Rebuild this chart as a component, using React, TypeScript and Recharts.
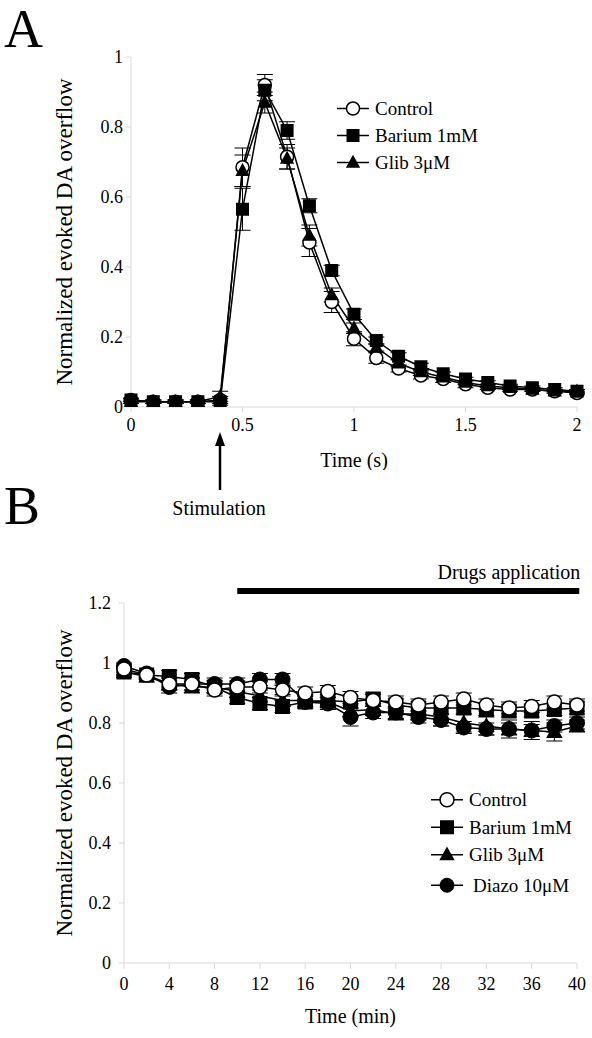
import React from 'react';
import { LineChart, Line, XAxis, YAxis, ErrorBar, ReferenceLine } from 'recharts';

const FONT = '"Liberation Serif", "Times New Roman", serif';

// ---------- Panel A data ----------
const timeA = [0, 0.1, 0.2, 0.3, 0.4, 0.5, 0.6, 0.7, 0.8, 0.9, 1, 1.1, 1.2, 1.3, 1.4, 1.5, 1.6, 1.7, 1.8, 1.9, 2];
const controlA = [0.02, 0.015, 0.015, 0.015, 0.02, 0.685, 0.92, 0.715, 0.47, 0.3, 0.195, 0.14, 0.11, 0.09, 0.08, 0.065, 0.055, 0.05, 0.05, 0.045, 0.04];
const controlAErr = [0.005, 0.005, 0.005, 0.005, 0.01, 0.055, 0.03, 0.035, 0.04, 0.03, 0.02, 0.015, 0.01, 0.01, 0.01, 0.01, 0.005, 0.005, 0.005, 0.005, 0.005];
const bariumA = [0.02, 0.015, 0.015, 0.015, 0.015, 0.565, 0.905, 0.79, 0.575, 0.39, 0.265, 0.19, 0.145, 0.115, 0.095, 0.08, 0.07, 0.06, 0.055, 0.05, 0.045];
const bariumAErr = [0.005, 0.005, 0.005, 0.005, 0.01, 0.06, 0.03, 0.025, 0.02, 0.015, 0.015, 0.01, 0.01, 0.01, 0.005, 0.005, 0.005, 0.005, 0.005, 0.005, 0.005];
const glibA = [0.015, 0.015, 0.015, 0.015, 0.03, 0.675, 0.87, 0.71, 0.49, 0.32, 0.225, 0.17, 0.125, 0.1, 0.085, 0.07, 0.06, 0.055, 0.05, 0.045, 0.045];
const glibAErr = [0.005, 0.005, 0.005, 0.005, 0.015, 0.045, 0.03, 0.03, 0.03, 0.02, 0.015, 0.01, 0.01, 0.01, 0.005, 0.005, 0.005, 0.005, 0.005, 0.005, 0.005];
const ticksAx = [0, 0.5, 1, 1.5, 2];
const ticksAy = [0, 0.2, 0.4, 0.6, 0.8, 1];
const legendA = ['Control', 'Barium 1mM', 'Glib 3\u03bcM'];

// ---------- Panel B data ----------
const timeB = [0, 2, 4, 6, 8, 10, 12, 14, 16, 18, 20, 22, 24, 26, 28, 30, 32, 34, 36, 38, 40];
const controlB = [0.98, 0.96, 0.93, 0.93, 0.91, 0.92, 0.92, 0.91, 0.9, 0.905, 0.885, 0.875, 0.87, 0.86, 0.87, 0.88, 0.86, 0.85, 0.855, 0.87, 0.86];
const controlBErr = [0.01, 0.01, 0.02, 0.02, 0.02, 0.02, 0.02, 0.02, 0.02, 0.02, 0.02, 0.02, 0.02, 0.02, 0.02, 0.02, 0.02, 0.02, 0.02, 0.02, 0.02];
const bariumB = [0.97, 0.96, 0.955, 0.945, 0.92, 0.885, 0.865, 0.855, 0.87, 0.875, 0.87, 0.88, 0.86, 0.85, 0.85, 0.85, 0.845, 0.84, 0.84, 0.845, 0.85];
const bariumBErr = [0.01, 0.01, 0.02, 0.02, 0.02, 0.02, 0.02, 0.02, 0.02, 0.02, 0.02, 0.02, 0.02, 0.02, 0.02, 0.02, 0.02, 0.02, 0.02, 0.02, 0.02];
const glibB = [0.97, 0.955, 0.93, 0.92, 0.92, 0.905, 0.89, 0.875, 0.875, 0.87, 0.84, 0.845, 0.83, 0.83, 0.82, 0.8, 0.79, 0.78, 0.775, 0.77, 0.79];
const glibBErr = [0.01, 0.01, 0.02, 0.02, 0.02, 0.02, 0.02, 0.02, 0.02, 0.02, 0.02, 0.02, 0.02, 0.02, 0.03, 0.03, 0.03, 0.03, 0.03, 0.03, 0.02];
const diazoB = [0.99, 0.965, 0.92, 0.93, 0.93, 0.93, 0.945, 0.945, 0.87, 0.865, 0.82, 0.835, 0.835, 0.82, 0.81, 0.785, 0.78, 0.78, 0.775, 0.79, 0.8];
const diazoBErr = [0.01, 0.01, 0.02, 0.02, 0.02, 0.02, 0.02, 0.02, 0.02, 0.02, 0.03, 0.02, 0.02, 0.02, 0.02, 0.02, 0.02, 0.02, 0.02, 0.02, 0.02];
const ticksBx = [0, 4, 8, 12, 16, 20, 24, 28, 32, 36, 40];
const ticksBy = [0, 0.2, 0.4, 0.6, 0.8, 1, 1.2];
const legendB = ['Control', 'Barium 1mM', 'Glib 3\u03bcM', 'Diazo 10\u03bcM'];
const drugStart = 10;
const drugEnd = 40.2;
const drugLevel = 1.24;

const dataA = timeA.map((t, i) => ({
  t,
  c: controlA[i], cErr: controlAErr[i],
  b: bariumA[i], bErr: bariumAErr[i],
  g: glibA[i], gErr: glibAErr[i],
}));

const dataB = timeB.map((t, i) => ({
  t,
  c: controlB[i], cErr: controlBErr[i],
  b: bariumB[i], bErr: bariumBErr[i],
  g: glibB[i], gErr: glibBErr[i],
  d: diazoB[i], dErr: diazoBErr[i],
}));

type Kind = 'open' | 'square' | 'triangle' | 'filled';

function Marker({ kind, cx, cy, s }: { kind: Kind; cx: number; cy: number; s: number }) {
  if (kind === 'open') return <circle cx={cx} cy={cy} r={s} fill="#fff" stroke="#000" strokeWidth={1.5} />;
  if (kind === 'filled') return <circle cx={cx} cy={cy} r={s} fill="#000" stroke="#000" strokeWidth={1} />;
  if (kind === 'square') return <rect x={cx - s} y={cy - s} width={2 * s} height={2 * s} fill="#000" />;
  const h = s * 1.9;
  return (
    <polygon
      points={`${cx},${cy - h * 0.62} ${cx - s * 1.1},${cy + h * 0.42} ${cx + s * 1.1},${cy + h * 0.42}`}
      fill="#000"
    />
  );
}

const makeDot = (kind: Kind, s: number) => (props: any) => {
  const { cx, cy, index } = props;
  if (cx == null || cy == null) return <g key={`n-${index}`} />;
  return (
    <g key={`d-${kind}-${index}`}>
      <Marker kind={kind} cx={cx} cy={cy} s={s} />
    </g>
  );
};

const YTitle = (props: any) => {
  const { viewBox, x0 } = props;
  const cy = viewBox.y + viewBox.height / 2;
  return (
    <text
      x={x0}
      y={cy}
      transform={`rotate(-90 ${x0} ${cy})`}
      textAnchor="middle"
      dominantBaseline="central"
      fontSize={23}
      fontFamily={FONT}
      fill="#000"
    >
      Normalized evoked DA overflow
    </text>
  );
};

const DrugLabel = (props: any) => {
  const { viewBox } = props;
  if (!viewBox) return null;
  const x = viewBox.x + (viewBox.width || 0) + 1;
  const y = viewBox.y - 12;
  return (
    <text x={x} y={y} textAnchor="end" fontSize={20} fontFamily={FONT} fill="#000">
      Drugs application
    </text>
  );
};

const LegendBox = ({ names, kinds, s, rowH, textX }: { names: string[]; kinds: Kind[]; s: number; rowH: number; textX: number }) => (
  <svg width={170} height={rowH * names.length + 4} style={{ overflow: 'visible', display: 'block' }}>
    {names.map((n, i) => {
      const y = rowH / 2 + i * rowH + (i === 3 ? 3 : 0);
      const mx = 16;
      return (
        <g key={n}>
          <line x1={0} x2={32} y1={y} y2={y} stroke="#000" strokeWidth={1.5} />
          <Marker kind={kinds[i]} cx={mx} cy={y} s={s} />
          <text x={textX + (i === 3 ? 4 : 0)} y={y} dominantBaseline="central" fontSize={19} fontFamily={FONT} fill="#000">
            {n}
          </text>
        </g>
      );
    })}
  </svg>
);

const axisTick = { fill: '#000', fontSize: 18, fontFamily: FONT };
const AX = '#d9d9d9';

export default function App() {
  return (
    <div style={{ position: 'absolute', left: 0, top: 0, width: 592, height: 1038, background: '#fff', fontFamily: FONT }}>
      <div style={{ position: 'absolute', left: 4, top: 2, fontSize: 54, fontFamily: FONT, lineHeight: '54px' }}>A</div>
      <div style={{ position: 'absolute', left: 4, top: 479, fontSize: 54, fontFamily: FONT, lineHeight: '54px' }}>B</div>

      {/* Panel A */}
      <div style={{ position: 'absolute', left: 0, top: 0 }}>
        <LineChart width={592} height={470} data={dataA} margin={{ top: 57, right: 15, bottom: 33, left: 0 }}>
          <XAxis
            type="number"
            dataKey="t"
            domain={[0, 2]}
            ticks={ticksAx}
            stroke={AX}
            tick={axisTick}
            tickSize={5}
            tickMargin={6}
            height={30}
            label={{ value: 'Time (s)', position: 'bottom', offset: 16, fontSize: 20, fontFamily: FONT, fill: '#000' }}
          />
          <YAxis
            type="number"
            domain={[0, 1]}
            allowDataOverflow
            ticks={ticksAy}
            stroke={AX}
            tick={axisTick}
            tickSize={5}
            tickMargin={3}
            width={131}
            label={<YTitle x0={64} />}
          />
          <Line dataKey="c" stroke="#000" strokeWidth={1.5} dot={makeDot('open', 6.5)} isAnimationActive={false}>
            <ErrorBar dataKey="cErr" width={8} stroke="#000" strokeWidth={1} />
          </Line>
          <Line dataKey="g" stroke="#000" strokeWidth={1.5} dot={makeDot('triangle', 6.5)} isAnimationActive={false}>
            <ErrorBar dataKey="gErr" width={8} stroke="#000" strokeWidth={1} />
          </Line>
          <Line dataKey="b" stroke="#000" strokeWidth={1.5} dot={makeDot('square', 6.5)} isAnimationActive={false}>
            <ErrorBar dataKey="bErr" width={8} stroke="#000" strokeWidth={1} />
          </Line>
        </LineChart>
      </div>
      <div style={{ position: 'absolute', left: 337, top: 95 }}>
        <LegendBox names={legendA} kinds={['open', 'square', 'triangle']} s={6.5} rowH={27} textX={38} />
      </div>

      {/* Stimulation arrow */}
      <svg style={{ position: 'absolute', left: 0, top: 0 }} width={592} height={1038} pointerEvents="none">
        <line x1={220} x2={220} y1={490} y2={442} stroke="#000" strokeWidth={2.5} />
        <polygon points="220,432 215,446 225,446" fill="#000" />
      </svg>
      <div style={{ position: 'absolute', left: 164, top: 496, width: 110, textAlign: 'center', fontSize: 20, fontFamily: FONT, lineHeight: '24px' }}>
        Stimulation
      </div>

      {/* Panel B */}
      <div style={{ position: 'absolute', left: 0, top: 520 }}>
        <LineChart width={592} height={518} data={dataB} margin={{ top: 83, right: 15, bottom: 45, left: 0 }}>
          <XAxis
            type="number"
            dataKey="t"
            domain={[0, 40]}
            ticks={ticksBx}
            stroke={AX}
            tick={axisTick}
            tickSize={6}
            tickMargin={8}
            height={30}
            label={{ value: 'Time (min)', position: 'bottom', offset: 16, fontSize: 20, fontFamily: FONT, fill: '#000' }}
          />
          <YAxis
            type="number"
            domain={[0, 1.2]}
            allowDataOverflow
            ticks={ticksBy}
            stroke={AX}
            tick={axisTick}
            tickSize={5}
            tickMargin={8}
            width={124}
            label={<YTitle x0={64} />}
          />
          <ReferenceLine
            segment={[{ x: drugStart, y: drugLevel }, { x: drugEnd, y: drugLevel }]}
            stroke="#000"
            strokeWidth={6}
            ifOverflow="visible"
            label={<DrugLabel />}
          />
          <Line dataKey="d" stroke="#000" strokeWidth={1.5} dot={makeDot('filled', 7.5)} isAnimationActive={false}>
            <ErrorBar dataKey="dErr" width={8} stroke="#000" strokeWidth={1} />
          </Line>
          <Line dataKey="g" stroke="#000" strokeWidth={1.5} dot={makeDot('triangle', 7.5)} isAnimationActive={false}>
            <ErrorBar dataKey="gErr" width={8} stroke="#000" strokeWidth={1} />
          </Line>
          <Line dataKey="b" stroke="#000" strokeWidth={1.5} dot={makeDot('square', 7.5)} isAnimationActive={false}>
            <ErrorBar dataKey="bErr" width={8} stroke="#000" strokeWidth={1} />
          </Line>
          <Line dataKey="c" stroke="#000" strokeWidth={1.5} dot={makeDot('open', 7)} isAnimationActive={false}>
            <ErrorBar dataKey="cErr" width={8} stroke="#000" strokeWidth={1} />
          </Line>
        </LineChart>
      </div>
      <div style={{ position: 'absolute', left: 431, top: 786 }}>
        <LegendBox names={legendB} kinds={['open', 'square', 'triangle', 'filled']} s={7} rowH={27.5} textX={38} />
      </div>
    </div>
  );
}
